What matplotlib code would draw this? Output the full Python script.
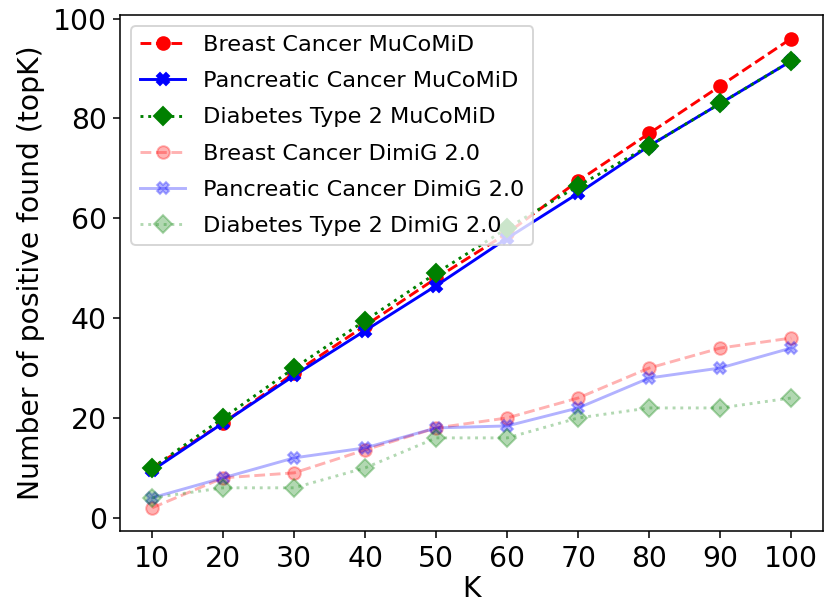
import numpy as np
import matplotlib
matplotlib.use("Agg")
import matplotlib.pyplot as plt

k_values = [10, 20, 30, 40, 50, 60, 70, 80, 90, 100]

# MuCoMiD results
breast_mucomid = [10, 19, 29, 38.5, 48, 57, 67.5, 77, 86.5, 96]
pancreatic_mucomid = [9.5, 19, 28.5, 37.5, 46.5, 56, 65, 74.5, 83, 91.5]
diabetes_mucomid = [10, 20, 30, 39.5, 49, 58, 66.5, 74.5, 83, 91.5]

# DimiG 2.0 results
breast_dimig = [2, 8, 9, 13.6, 18, 20, 24, 30, 34, 36]
pancreatic_dimig = [4, 8, 12, 14, 18, 18.4, 22, 28, 30, 34]
diabetes_dimig = [4, 6, 6, 10, 16, 16, 20, 22, 22, 24]

fig = plt.figure(figsize=(824 / 140, 603 / 140), dpi=140)
ax = fig.add_axes([0.146, 0.119, 0.853, 0.856])

ms = 6.5
ax.plot(k_values, breast_mucomid, 'r--o', ms=ms, label='Breast Cancer MuCoMiD')
ax.plot(k_values, pancreatic_mucomid, 'b-X', ms=ms, label='Pancreatic Cancer MuCoMiD')
ax.plot(k_values, diabetes_mucomid, 'g:D', ms=ms, label='Diabetes Type 2 MuCoMiD')
ax.plot(k_values, breast_dimig, 'r--o', ms=ms, alpha=0.3, label='Breast Cancer DimiG 2.0')
ax.plot(k_values, pancreatic_dimig, 'b-X', ms=ms, alpha=0.3, label='Pancreatic Cancer DimiG 2.0')
ax.plot(k_values, diabetes_dimig, 'g:D', ms=ms, alpha=0.3, label='Diabetes Type 2 DimiG 2.0')

ax.set_xticks(k_values)
ax.tick_params(labelsize=14.5)
ax.set_xlabel('K', fontsize=14.5, labelpad=1)
ax.set_ylabel('Number of positive found (topK)', fontsize=14.5)
ax.legend(loc='upper left', fontsize=11.5, labelspacing=0.72)

fig.savefig('out.png', dpi=140)
